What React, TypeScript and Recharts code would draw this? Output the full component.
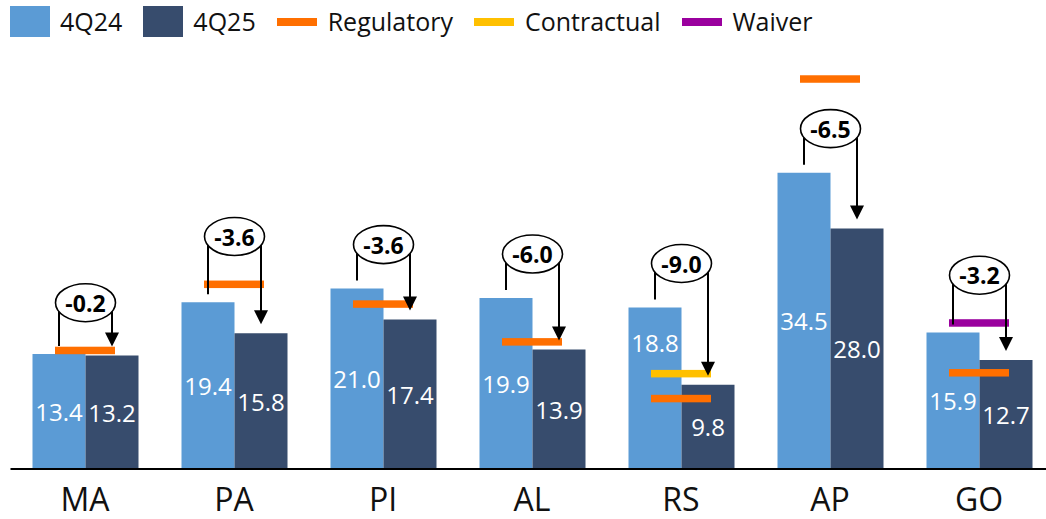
import React from 'react';
import { ComposedChart, Bar, Line, XAxis, YAxis, LabelList } from 'recharts';

// categories and values
const categories = ['MA', 'PA', 'PI', 'AL', 'RS', 'AP', 'GO'];
const q24 = [13.4, 19.4, 21.0, 19.9, 18.8, 34.5, 15.9];
const q25 = [13.2, 15.8, 17.4, 13.9, 9.8, 28.0, 12.7];
const regulatory = [13.8, 21.5, 19.2, 14.8, 8.2, 45.4, 11.2];
const contractual = [null, null, null, null, 11.1, null, null];
const waiver = [null, null, null, null, null, null, 17.0];

const COLORS = {
  q24: '#5B9BD5',
  q25: '#374C6D',
  reg: '#FF6F00',
  con: '#FFC000',
  wai: '#9A009E',
};

const FONT = '"Open Sans", sans-serif';

const data = categories.map((name, i) => ({
  name,
  q24: q24[i],
  q25: q25[i],
  reg: regulatory[i],
  con: contractual[i],
  wai: waiver[i],
}));

const legendItems = [
  { label: '4Q24', color: COLORS.q24, kind: 'box' },
  { label: '4Q25', color: COLORS.q25, kind: 'box' },
  { label: 'Regulatory', color: COLORS.reg, kind: 'line' },
  { label: 'Contractual', color: COLORS.con, kind: 'line' },
  { label: 'Waiver', color: COLORS.wai, kind: 'line' },
];

const markersAt = (i: number) =>
  [regulatory[i], contractual[i], waiver[i]].filter((v) => v != null) as number[];

// read the bar rectangle out of label props (v3 passes a viewBox)
const geom = (props: any, values: number[]) => {
  const vb = props.viewBox || {};
  const x = props.x ?? vb.x;
  const y = props.y ?? vb.y;
  const width = props.width ?? vb.width;
  const height = props.height ?? vb.height;
  let i = props.index;
  if (i == null) i = values.indexOf(Number(props.value));
  return { x, y, width, height, i };
};

// horizontal marker drawn at each point of a threshold series
const markerDot = (color: string) => (props: any) => {
  const { cx, cy, value, index } = props;
  if (value == null || cy == null || isNaN(cy)) return <g key={`m-${index}`} />;
  return <rect key={`m-${index}`} x={cx - 30} y={cy - 3.75} width={60} height={7.5} fill={color} />;
};

// value inside the bar, nudged up when a marker crosses the middle
const valueLabel = (values: number[]) => (props: any) => {
  const { x, y, width, height, i } = geom(props, values);
  if (x == null || i == null || i < 0) return null;
  const baseline = y + height;
  const ppu = height / values[i];
  let cy = y + height / 2;
  const hits = markersAt(i)
    .map((v) => baseline - v * ppu)
    .filter((my) => my > y && Math.abs(my - cy) < 22);
  if (hits.length) cy = (y + Math.min(...hits) - 3.75) / 2 + 4;
  return (
    <text
      x={x + width / 2}
      y={cy}
      textAnchor="middle"
      dominantBaseline="central"
      fontSize={24}
      fontFamily={FONT}
      fill="#fff"
    >
      {values[i].toFixed(1)}
    </text>
  );
};

// bracket + arrow + delta bubble, drawn from the 4Q25 bar geometry
const Bracket = (props: any) => {
  const { x, y, width, height, i } = geom(props, q25);
  if (x == null || i == null || i < 0) return null;

  const baseline = y + height;
  const ppu = height / q25[i];
  const darkTop = y;
  const lightTop = baseline - q24[i] * ppu;
  const lx = x - width / 2;
  const rx = x + width / 2;
  const cx = x;

  let refTop = Math.min(lightTop, darkTop);
  const barTop = refTop;
  markersAt(i).forEach((v) => {
    const my = baseline - v * ppu;
    if (my >= barTop - 40) refTop = Math.min(refTop, my - 3.75);
  });
  const ey = refTop - 44;
  const tip = darkTop - 9;
  const delta = (q25[i] - q24[i]).toFixed(1);

  return (
    <g>
      <polyline
        points={`${lx},${lightTop - 8} ${lx},${ey} ${rx},${ey} ${rx},${tip - 13}`}
        fill="none"
        stroke="#000"
        strokeWidth={2}
      />
      <polygon points={`${rx - 7},${tip - 14} ${rx + 7},${tip - 14} ${rx},${tip}`} fill="#000" />
      <ellipse cx={cx} cy={ey} rx={30} ry={19} fill="#fff" stroke="#000" strokeWidth={1.6} />
      <text
        x={cx}
        y={ey}
        textAnchor="middle"
        dominantBaseline="central"
        fontSize={23}
        fontWeight="bold"
        fontFamily={FONT}
        fill="#000"
      >
        {delta}
      </text>
    </g>
  );
};

const Tick = (props: any) => {
  const { x, y, payload } = props;
  return (
    <text x={x} y={y + 34} textAnchor="middle" fontSize={32} fontFamily={FONT} fill="#111">
      {payload.value}
    </text>
  );
};

export default function App() {
  return (
    <div
      style={{
        position: 'absolute',
        left: 0,
        top: 0,
        width: 1046,
        height: 519,
        overflow: 'hidden',
        background: '#fff',
        fontFamily: FONT,
      }}
    >
      <div
        style={{
          position: 'absolute',
          left: 10,
          top: 6,
          display: 'flex',
          alignItems: 'center',
          height: 31,
          zIndex: 2,
        }}
      >
        {legendItems.map((it) => (
          <div key={it.label} style={{ display: 'flex', alignItems: 'center', marginRight: 21 }}>
            <div
              style={{
                width: 40,
                height: it.kind === 'box' ? 31 : 8,
                background: it.color,
                marginRight: it.kind === 'box' ? 10 : 11,
              }}
            />
            <span style={{ fontSize: 25, color: '#111', lineHeight: '31px' }}>{it.label}</span>
          </div>
        ))}
      </div>

      <ComposedChart
        width={1054}
        height={519}
        data={data}
        margin={{ top: 39.5, right: 0.5, left: 10.5, bottom: 20 }}
        barGap={0}
      >
        <XAxis
          dataKey="name"
          height={30}
          axisLine={{ stroke: '#000', strokeWidth: 2 }}
          tickLine={false}
          tick={<Tick />}
          interval={0}
        />
        <YAxis hide domain={[0, 50]} />
        <Bar dataKey="q24" fill={COLORS.q24} barSize={53} isAnimationActive={false}>
          <LabelList dataKey="q24" content={valueLabel(q24)} />
        </Bar>
        <Bar dataKey="q25" fill={COLORS.q25} barSize={53} isAnimationActive={false}>
          <LabelList dataKey="q25" content={valueLabel(q25)} />
          <LabelList dataKey="q25" content={(p: any) => <Bracket {...p} />} />
        </Bar>
        <Line
          dataKey="reg"
          stroke="none"
          dot={markerDot(COLORS.reg)}
          activeDot={false}
          isAnimationActive={false}
        />
        <Line
          dataKey="con"
          stroke="none"
          dot={markerDot(COLORS.con)}
          activeDot={false}
          isAnimationActive={false}
        />
        <Line
          dataKey="wai"
          stroke="none"
          dot={markerDot(COLORS.wai)}
          activeDot={false}
          isAnimationActive={false}
        />
      </ComposedChart>
    </div>
  );
}
